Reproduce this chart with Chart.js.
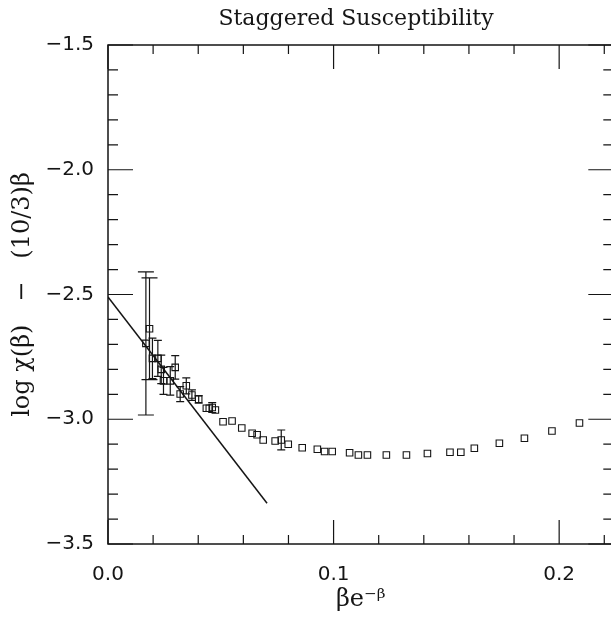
<!DOCTYPE html>
<html><head><meta charset="utf-8">
<script src="https://cdn.jsdelivr.net/npm/chart.js@4/dist/chart.umd.min.js"></script>
<style>html,body{margin:0;padding:0;background:#fff;overflow:hidden}
#wrap{position:relative;width:619px;height:623px}</style>
</head><body><div id="wrap"><canvas id="c" width="619" height="623"></canvas></div>
<script>
const xValues=[0.0168,0.0184,0.0197,0.0221,0.0236,0.0246,0.0276,0.0298,0.0320,0.0347,0.0372,0.0402,0.0436,0.0449,0.0462,0.0476,0.0510,0.0550,0.0593,0.0639,0.0661,0.0688,0.0741,0.0768,0.0799,0.0861,0.0928,0.0960,0.0994,0.1071,0.1110,0.1150,0.1234,0.1323,0.1416,0.1516,0.1564,0.1624,0.1735,0.1846,0.1968,0.2090];
const yValues=[-2.696,-2.637,-2.756,-2.756,-2.800,-2.846,-2.846,-2.792,-2.899,-2.866,-2.903,-2.920,-2.956,-2.956,-2.953,-2.963,-3.010,-3.007,-3.035,-3.056,-3.062,-3.083,-3.087,-3.083,-3.100,-3.114,-3.120,-3.129,-3.129,-3.134,-3.143,-3.143,-3.143,-3.143,-3.137,-3.132,-3.132,-3.116,-3.096,-3.076,-3.047,-3.015];
const yErrors=[0.287,0.204,0.081,0.072,0.057,0.054,0.057,0.047,0.030,0.032,0.021,0.015,0,0,0.020,0,0,0,0,0,0,0,0,0.040,0,0,0,0,0,0,0,0,0,0,0,0,0,0,0,0,0,0];
const fitX=[0,0.0705];
const fitY=[-2.51,-3.337];
const xMajorTicks=[0,0.1,0.2];
const xMinorTicks=[0.02,0.04,0.06,0.08,0.12,0.14,0.16,0.18,0.22];
const yMajorTicks=[-3.5,-3.0,-2.5,-2.0,-1.5];
const yMinorTicks=[-3.4,-3.3,-3.2,-3.1,-2.9,-2.8,-2.7,-2.6,-2.4,-2.3,-2.2,-2.1,-1.9,-1.8,-1.7,-1.6];
const xRange=[0,0.224];
const yRange=[-3.5,-1.5];
const chartTitle='Staggered Susceptibility';

const INK='#151515';
const points=xValues.map((x,i)=>({x:x,y:yValues[i]}));
const fitLine=fitX.map((x,i)=>({x:x,y:fitY[i]}));

const errorBars={id:'errorBars',afterDatasetsDraw(chart){
  const {ctx,scales:{x,y}}=chart;
  ctx.save();ctx.strokeStyle=INK;ctx.lineWidth=1.2;
  yErrors.forEach((e,i)=>{
    if(!e) return;
    const px=x.getPixelForValue(xValues[i]);
    const yt=y.getPixelForValue(yValues[i]+e), yb=y.getPixelForValue(yValues[i]-e);
    const hw=(yb-yt)>60?8:4;
    ctx.beginPath();
    ctx.moveTo(px,yt);ctx.lineTo(px,yb);
    ctx.moveTo(px-hw,yt);ctx.lineTo(px+hw,yt);
    ctx.moveTo(px-hw,yb);ctx.lineTo(px+hw,yb);
    ctx.stroke();
  });
  ctx.restore();
}};

const frameTicks={id:'frameTicks',afterDraw(chart){
  const {ctx,chartArea:a,scales:{x,y}}=chart;
  ctx.save();ctx.strokeStyle=INK;ctx.lineWidth=1.5;
  ctx.strokeRect(a.left,a.top,a.right-a.left,a.bottom-a.top);
  ctx.lineWidth=1.2;ctx.beginPath();
  const xt=(v,len)=>{const p=x.getPixelForValue(v);ctx.moveTo(p,a.bottom);ctx.lineTo(p,a.bottom-len);ctx.moveTo(p,a.top);ctx.lineTo(p,a.top+len);};
  const yt=(v,len)=>{const p=y.getPixelForValue(v);ctx.moveTo(a.left,p);ctx.lineTo(a.left+len,p);ctx.moveTo(a.right,p);ctx.lineTo(a.right-len,p);};
  xMajorTicks.forEach(v=>xt(v,24));xMinorTicks.forEach(v=>xt(v,9));
  yMajorTicks.forEach(v=>yt(v,25));yMinorTicks.forEach(v=>yt(v,10));
  ctx.stroke();
  ctx.fillStyle=INK;ctx.font='22px "DejaVu Serif"';ctx.textAlign='center';ctx.textBaseline='middle';
  ctx.fillText(chartTitle,356,19);
  ctx.restore();
}};

const fmt=v=>(v<0?'\u2212':'')+Math.abs(v).toFixed(1);

new Chart(document.getElementById('c'),{
  type:'scatter',
  data:{datasets:[
    {label:'data',data:points,pointStyle:'rect',pointRadius:4.6,pointHoverRadius:4.6,borderColor:INK,borderWidth:1.1,backgroundColor:'rgba(0,0,0,0)',showLine:false},
    {label:'fit',data:fitLine,showLine:true,pointRadius:0,borderColor:INK,borderWidth:1.5,fill:false}
  ]},
  plugins:[errorBars,frameTicks],
  options:{
    responsive:false,animation:false,devicePixelRatio:1,
    layout:{padding:{left:0,right:0,top:45,bottom:0}},
    plugins:{legend:{display:false},tooltip:{enabled:false},title:{display:false}},
    scales:{
      x:{type:'linear',min:xRange[0],max:xRange[1],
        afterBuildTicks:s=>{s.ticks=xMajorTicks.map(v=>({value:v}));},
        afterFit:s=>{s.height=79;},
        grid:{display:false,drawTicks:false},border:{display:false},
        ticks:{callback:v=>v.toFixed(1),color:INK,font:{family:'DejaVu Sans',size:20},padding:19,maxRotation:0,autoSkip:false},
        title:{display:true,text:'\u03B2e\u207B\u1D5D',color:INK,font:{family:'DejaVu Serif',size:24},padding:{top:0,bottom:9}}
      },
      y:{type:'linear',min:yRange[0],max:yRange[1],
        afterBuildTicks:s=>{s.ticks=yMajorTicks.map(v=>({value:v}));},
        afterFit:s=>{s.width=108;},
        grid:{display:false,drawTicks:false},border:{display:false},
        ticks:{callback:fmt,color:INK,font:{family:'DejaVu Sans',size:20},padding:14,autoSkip:false},
        title:{display:true,text:'log \u03C7(\u03B2)   \u2212   (10/3)\u03B2',color:INK,font:{family:'DejaVu Serif',size:24},padding:{top:8,bottom:0}}
      }
    }
  }
});
</script></body></html>
